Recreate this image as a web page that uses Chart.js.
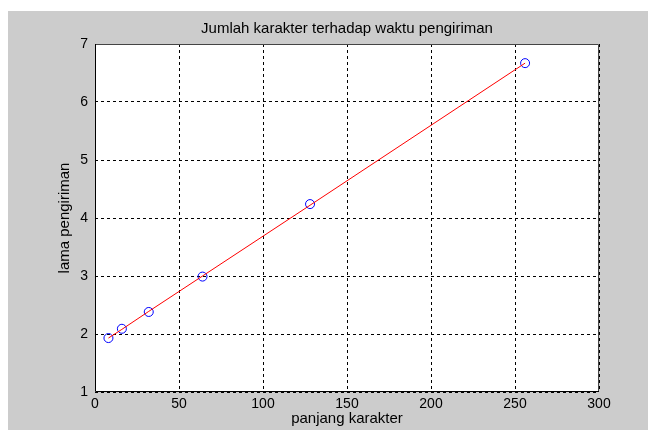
<!DOCTYPE html>
<html>
<head>
<meta charset="utf-8">
<script src="https://cdn.jsdelivr.net/npm/chart.js@4.4.1/dist/chart.umd.min.js"></script>
<style>
  html, body { margin: 0; padding: 0; background: #fff; }
</style>
</head>
<body>
<canvas id="grafik" width="648" height="430"></canvas>
<script>
// data
const panjangKarakter = [8, 16, 32, 64, 128, 256];
const lamaPengiriman = [1.93, 2.09, 2.38, 2.99, 4.24, 6.67];
const garisFit = [1.93, 2.08, 2.39, 3.00, 4.22, 6.67];
const xTicks = [0, 50, 100, 150, 200, 250, 300];
const yTicks = [1, 2, 3, 4, 5, 6, 7];

Chart.defaults.font.family = '"Liberation Sans", Arial, sans-serif';
Chart.defaults.color = '#000';

// latar abu-abu ala figure MATLAB + kotak sumbu
const latar = {
  id: 'latar',
  beforeDraw(chart) {
    const { ctx, chartArea: a } = chart;
    ctx.save();
    ctx.fillStyle = '#ffffff';
    ctx.fillRect(0, 0, chart.width, chart.height);
    ctx.fillStyle = '#cccccc';
    ctx.fillRect(8, 11, chart.width - 8, chart.height - 11);
    ctx.fillStyle = '#ffffff';
    ctx.fillRect(a.left, a.top, a.right - a.left, a.bottom - a.top);
    ctx.restore();
  },
  afterDraw(chart) {
    const { ctx, chartArea: a } = chart;
    ctx.save();
    ctx.lineWidth = 1;
    ctx.strokeStyle = '#444';
    ctx.beginPath();
    ctx.moveTo(a.left, a.top + 0.5);
    ctx.lineTo(a.right - 0.5, a.top + 0.5);
    ctx.lineTo(a.right - 0.5, a.bottom);
    ctx.stroke();
    ctx.strokeStyle = '#000';
    ctx.beginPath();
    ctx.moveTo(a.left + 0.5, a.top);
    ctx.lineTo(a.left + 0.5, a.bottom - 0.5);
    ctx.lineTo(a.right, a.bottom - 0.5);
    ctx.stroke();
    ctx.restore();
  }
};

const titik = panjangKarakter.map((x, i) => ({ x: x, y: lamaPengiriman[i] }));
const garis = panjangKarakter.map((x, i) => ({ x: x, y: garisFit[i] }));

new Chart(document.getElementById('grafik'), {
  type: 'scatter',
  data: {
    datasets: [
      {
        label: 'fit',
        type: 'line',
        data: garis,
        borderColor: '#ff0000',
        borderWidth: 1,
        pointRadius: 0,
        fill: false,
        tension: 0,
        order: 0
      },
      {
        label: 'data',
        data: titik,
        pointStyle: 'circle',
        pointRadius: 4.5,
        pointBorderWidth: 1,
        pointBorderColor: '#0000ff',
        pointBackgroundColor: 'rgba(0,0,0,0)',
        order: 1
      }
    ]
  },
  options: {
    responsive: false,
    animation: false,
    layout: { padding: { left: 0, right: 49, top: 0, bottom: 0 } },
    plugins: {
      legend: { display: false },
      tooltip: { enabled: false },
      title: {
        display: true,
        fullSize: false,
        text: 'Jumlah karakter terhadap waktu pengiriman',
        font: { size: 15, weight: 'normal' },
        color: '#000',
        padding: { top: 20, bottom: 6 }
      }
    },
    scales: {
      x: {
        type: 'linear',
        min: 0,
        max: 300,
        afterBuildTicks: s => { s.ticks = xTicks.map(v => ({ value: v })); },
        afterFit: s => { s.height = 38; },
        ticks: { font: { size: 14 }, padding: 3.6, maxRotation: 0, autoSkip: false },
        grid: { color: '#000', lineWidth: 1, drawTicks: false },
        border: { display: false, dash: [3, 3] },
        title: {
          display: true,
          text: 'panjang karakter',
          font: { size: 15 },
          padding: { top: 0, bottom: 2 }
        }
      },
      y: {
        type: 'linear',
        min: 1,
        max: 7,
        afterBuildTicks: s => { s.ticks = yTicks.map(v => ({ value: v })); },
        afterFit: s => { s.width = 95; },
        ticks: { font: { size: 14 }, padding: 7 },
        grid: { color: '#000', lineWidth: 1, drawTicks: false },
        border: { display: false, dash: [3, 3] },
        title: {
          display: true,
          text: 'lama pengiriman',
          font: { size: 15 },
          padding: { top: 56, bottom: 0 }
        }
      }
    }
  },
  plugins: [latar]
});
</script>
</body>
</html>
